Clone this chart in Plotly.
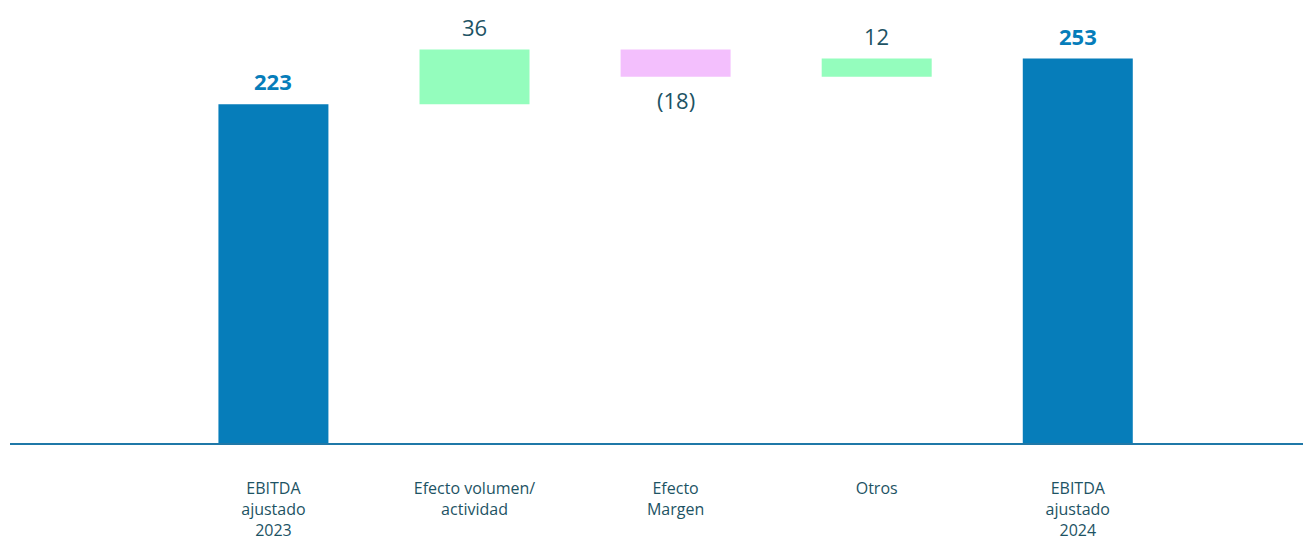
import plotly.graph_objects as go

categories = ["EBITDA<br>ajustado<br>2023", "Efecto volumen/<br>actividad",
              "Efecto<br>Margen", "Otros", "EBITDA<br>ajustado<br>2024"]
measures = ["absolute", "relative", "relative", "relative", "total"]
values = [223, 36, -18, 12, 253]
labels = ["<b>223</b>", "36", "(18)", "12", "<b>253</b>"]

blue = "#067DBA"
green = "#94FDBD"
pink = "#F3BFFD"
teal = "#1D5364"

label_colors = [blue, teal, teal, teal, blue]

fig = go.Figure(go.Waterfall(
    x=categories,
    y=values,
    measure=measures,
    width=0.547,
    connector=dict(visible=False),
    increasing=dict(marker=dict(color=green)),
    decreasing=dict(marker=dict(color=pink)),
    totals=dict(marker=dict(color=blue)),
    hoverinfo="skip",
))

# value labels placed at the end of each bar
running = 0
for cat, m, v, lab, col in zip(categories, measures, values, labels, label_colors):
    if m in ("absolute", "total"):
        running = v
        y, shift = v, 23
    else:
        running += v
        y, shift = running, (23 if v >= 0 else -23)
    fig.add_annotation(x=cat, y=y, text=lab, showarrow=False,
                       yanchor="middle", yshift=shift,
                       font=dict(size=22, color=col))

fig.update_layout(
    width=1303, height=540,
    margin=dict(l=10, r=0, t=10, b=97),
    paper_bgcolor="white",
    plot_bgcolor="white",
    showlegend=False,
    font=dict(family="Open Sans, sans-serif", color=teal),
    xaxis=dict(
        type="category",
        range=[-1.31, 5.12],
        automargin=False,
        showline=True, linecolor="#1F78A8", linewidth=1.5,
        showgrid=False, zeroline=False,
        ticks="", ticklabelstandoff=30,
        tickfont=dict(size=16, color=teal),
    ),
    yaxis=dict(
        range=[0, 285],
        visible=False,
        automargin=False,
        showgrid=False, zeroline=False,
    ),
)

fig.write_html("out.html", config={"displayModeBar": False},
               post_script="document.body.style.margin='0';")
